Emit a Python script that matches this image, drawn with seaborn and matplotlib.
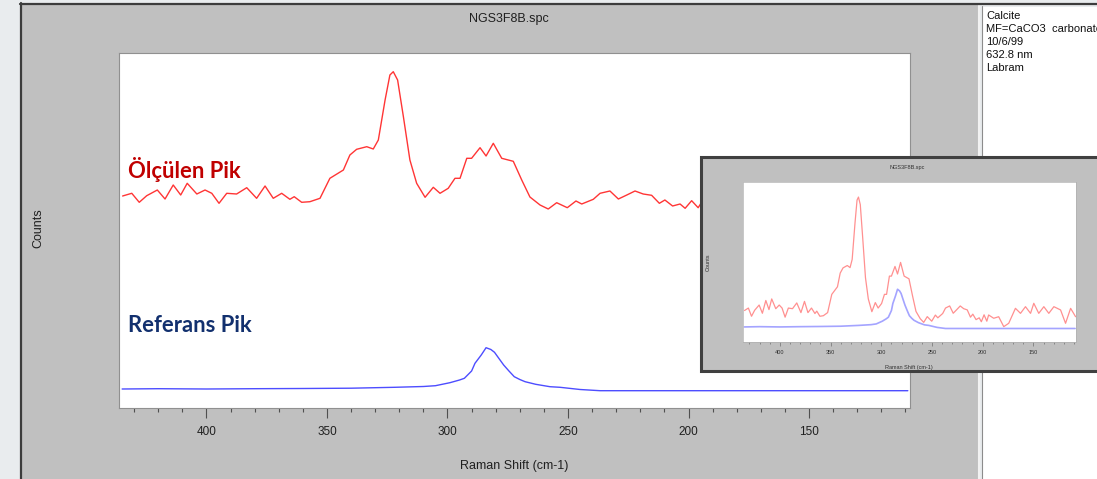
import matplotlib
matplotlib.use("Agg")
from matplotlib import pyplot as plt
from matplotlib.patches import Rectangle
from matplotlib.lines import Line2D
from matplotlib.ticker import MultipleLocator
import numpy as np
import pandas as pd
import seaborn as sns

meas_shift = [434.8, 431.0, 427.9, 424.8, 420.4, 417.2, 413.8, 410.7, 408.0, 404.0,
              400.6, 397.8, 394.8, 391.6, 387.5, 383.3, 379.2, 375.7, 372.3, 368.8,
              365.4, 363.6, 360.5, 357.1, 352.9, 348.8, 343.2, 340.5, 337.7, 333.5,
              330.8, 328.7, 325.9, 323.9, 322.5, 320.7, 318.3, 315.6, 312.8, 309.3,
              305.9, 303.1, 299.7, 296.9, 294.8, 292.0, 290.0, 286.5, 284.0, 281.0,
              277.5, 272.7, 269.2, 265.8, 261.6, 258.2, 254.7, 250.3, 246.7, 244.3,
              239.5, 236.7, 232.6, 229.1, 225.6, 222.2, 218.8, 215.3, 212.1, 209.8,
              206.6, 203.5, 201.4, 198.7, 196.0, 194.2, 189.2, 184.3, 179.3, 174.4,
              167.8, 162.8, 157.9, 152.9, 149.7, 144.8, 139.8, 134.9, 129.9, 123.3,
              118.4, 113.4, 108.5]
meas_counts = [37.0, 39.7, 30.7, 37.3, 43.0, 34.0, 48.0, 38.0, 49.7, 39.0,
               43.0, 39.7, 29.7, 39.7, 39.0, 45.3, 34.7, 47.0, 34.7, 39.7,
               33.7, 36.3, 30.7, 31.3, 34.7, 54.7, 63.0, 78.0, 83.7, 86.3,
               84.0, 93.0, 133.0, 158.0, 161.3, 153.0, 116.3, 73.0, 49.7, 35.7,
               45.7, 39.7, 44.7, 54.7, 54.7, 74.7, 74.7, 85.3, 77.0, 89.7,
               74.7, 71.7, 53.0, 36.0, 28.0, 24.0, 30.3, 25.3, 32.0, 29.0,
               33.7, 39.7, 42.0, 34.0, 38.0, 42.0, 39.0, 37.7, 29.7, 33.0,
               27.0, 29.0, 24.7, 32.3, 25.3, 32.1, 28.5, 30.2, 19.3, 23.0,
               39.4, 33.9, 41.2, 33.9, 44.9, 33.9, 41.2, 33.9, 41.2, 37.6,
               23.0, 39.4, 30.2]

# reference spectrum (blue)
ref_shift = [435, 420, 400, 380, 360, 340, 322, 310, 305, 299, 295, 293, 290, 288.6,
             286, 284, 282, 280.5, 278.5, 276.7, 274.5, 272.3, 270, 267.8, 263.4,
             257.5, 253.3, 245, 236.7, 220, 200, 180, 160, 140, 120, 109]
ref_counts = [19.0, 19.3, 19.0, 19.3, 19.5, 19.8, 20.7, 21.5, 22.3, 25.3, 28.0, 29.7,
              37.0, 44.7, 53.0, 60.3, 58.5, 55.7, 49.0, 43.0, 37.0, 31.3, 28.5, 26.3,
              23.7, 21.3, 20.7, 18.5, 17.3, 17.3, 17.3, 17.3, 17.3, 17.3, 17.3, 17.3]

file_name = "NGS3F8B.spc"
x_label = "Raman Shift (cm-1)"
y_label = "Counts"
meas_label = "Ölçülen Pik"
ref_label = "Referans Pik"
info_lines = ["Calcite", "MF=CaCO3  carbonate", "10/6/99", "632.8 nm", "Labram"]

meas = pd.DataFrame({"shift": meas_shift, "counts": meas_counts})
ref = pd.DataFrame({"shift": ref_shift, "counts": ref_counts})
offset = 175  # stacking offset of the measured trace in the main view
meas["stacked"] = meas["counts"] + offset

sns.set_style("white")
plt.rcParams['font.family'] = ['Liberation Sans', 'DejaVu Sans']
plt.rcParams['lines.solid_joinstyle'] = 'round'

W, H = 1097, 479
fig = plt.figure(figsize=(W / 100, H / 100), dpi=100, facecolor='#e9ecee')


def box(x0, y0, x1, y1):
    # pixel box, top-left origin -> figure fraction [l, b, w, h]
    return [x0 / W, 1 - y1 / H, (x1 - x0) / W, (y1 - y0) / H]


def fx(x):
    return x / W


def fy(y):
    return 1 - y / H


# window chrome
fig.add_artist(Rectangle((fx(22), 0), fx(978) - fx(22), fy(5), transform=fig.transFigure,
                         fc='#c0c0c0', ec='none', zorder=-5))
fig.add_artist(Rectangle((fx(983), 0), fx(1100) - fx(983), fy(7), transform=fig.transFigure,
                         fc='white', ec='none', zorder=-4))
fig.add_artist(Line2D([fx(979), fx(979)], [0, fy(6)], transform=fig.transFigure,
                      color='#f2f2f2', lw=1.5, zorder=-3))
fig.add_artist(Line2D([fx(982), fx(982)], [0, fy(6)], transform=fig.transFigure,
                      color='#8c8c8c', lw=0.8, zorder=-3))
fig.add_artist(Line2D([fx(20), fx(1100)], [fy(4), fy(4)], transform=fig.transFigure,
                      color='#3c3c3c', lw=1.6, zorder=-2))
fig.add_artist(Line2D([fx(21), fx(21)], [0, fy(3)], transform=fig.transFigure,
                      color='#3c3c3c', lw=1.6, zorder=-2))

# main plot
ax = fig.add_axes(box(119, 53, 910, 408), zorder=0)
ax.set_facecolor('white')
sns.lineplot(data=meas, x="shift", y="stacked", ax=ax, color='#ff3535', lw=1.0,
             estimator=None, sort=False)
sns.lineplot(data=ref, x="shift", y="counts", ax=ax, color='#4d4dff', lw=1.0,
             estimator=None, sort=False)
ax.set_xlim(436.3, 108.1)
ax.set_ylim(0, 355)
ax.set_yticks([])
ax.set_xlabel("")
ax.set_ylabel("")
ax.xaxis.set_major_locator(MultipleLocator(50))
ax.xaxis.set_minor_locator(MultipleLocator(10))
ax.tick_params(axis='x', which='major', direction='out', length=7, width=0.8,
               color='#505050', labelsize=8.5, labelcolor='#202020', pad=6, bottom=True)
ax.tick_params(axis='x', which='minor', direction='out', length=3, width=0.8,
               color='#505050', bottom=True)
for s in ax.spines.values():
    s.set_color('#909090')
    s.set_linewidth(0.8)

fig.text(fx(509), fy(19), file_name, ha='center', va='center', fontsize=9, color='#202020')
fig.text(fx(514), fy(466), x_label, ha='center', va='center', fontsize=9, color='#202020')
fig.text(fx(38), fy(228), y_label, ha='center', va='center', rotation=90, fontsize=9,
         color='#202020')

fig.text(fx(128), fy(177.7), meas_label, ha='left', va='baseline', fontsize=15.8,
         fontweight='bold', color='#c00000', family=['Lato', 'DejaVu Sans'])
fig.text(fx(128), fy(332), ref_label, ha='left', va='baseline', fontsize=15.8,
         fontweight='bold', color='#12306e', family=['Lato', 'DejaVu Sans'])

for i, line in enumerate(info_lines):
    fig.text(fx(986), fy(16 + 13 * i), line, ha='left', va='center', fontsize=8,
             color='#101010', zorder=1)

# inset window
fig.add_artist(Rectangle((fx(701), fy(371)), fx(1100) - fx(701), fy(157) - fy(371),
                         transform=fig.transFigure, fc='#c0c0c0', ec='#404040', lw=2.2,
                         zorder=5))
axi = fig.add_axes(box(743, 182, 1076, 342), zorder=6)
axi.set_facecolor('white')
sns.lineplot(data=meas, x="shift", y="counts", ax=axi, color='#ff9090', lw=0.9,
             estimator=None, sort=False)
sns.lineplot(data=ref, x="shift", y="counts", ax=axi, color='#a4a4ff', lw=1.2,
             estimator=None, sort=False)
axi.set_xlim(436.3, 108.1)
axi.set_ylim(2.5, 177.8)
axi.set_yticks([])
axi.set_xlabel("")
axi.set_ylabel("")
axi.xaxis.set_major_locator(MultipleLocator(50))
axi.xaxis.set_minor_locator(MultipleLocator(10))
axi.tick_params(axis='x', which='major', direction='out', length=3, width=0.5,
                color='#707070', labelsize=4, labelcolor='#303030', pad=2.5, bottom=True)
axi.tick_params(axis='x', which='minor', direction='out', length=1.5, width=0.5,
                color='#707070', bottom=True)
for s in axi.spines.values():
    s.set_color('#b0b0b0')
    s.set_linewidth(0.5)

fig.text(fx(907), fy(167), file_name, ha='center', va='center', fontsize=4,
         color='#303030', zorder=7)
fig.text(fx(909), fy(368), x_label, ha='center', va='center', fontsize=4,
         color='#303030', zorder=7)
fig.text(fx(708), fy(262), y_label, ha='center', va='center', rotation=90, fontsize=4,
         color='#303030', zorder=7)

fig.savefig("out.png", dpi=100, facecolor=fig.get_facecolor())
